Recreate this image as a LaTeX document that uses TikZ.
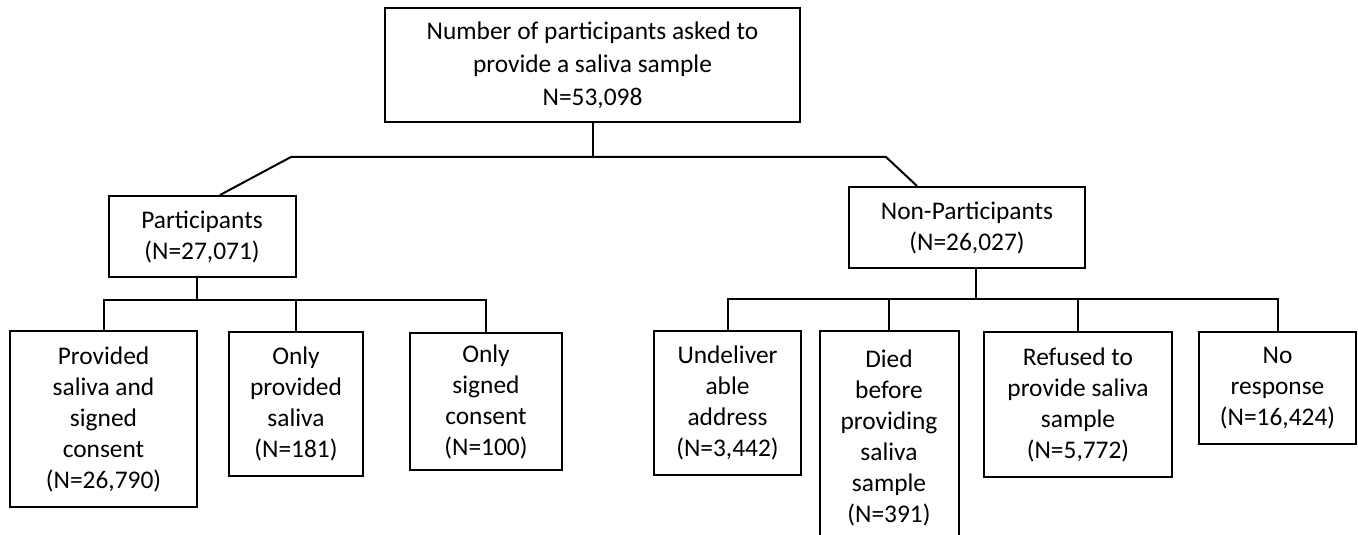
\documentclass[tikz,border=0pt]{standalone}
\usepackage{fontspec}
\setmainfont{Carlito}
\usetikzlibrary{calc,positioning}

\tikzset{
  flowbox/.style={draw,line width=2pt,align=center,inner sep=0pt,
    font=\fontsize{25.4}{31}\selectfont},
  link/.style={line width=2pt}
}

\begin{document}
\begin{tikzpicture}[x=1pt,y=1pt]
  \clip (0,0) rectangle (1358,535);
  % top box
  \node[flowbox,minimum width=415,minimum height=114,font=\fontsize{25.4}{33}\selectfont] (asked) at (592.5,470)
    {Number of participants asked to\\provide a saliva sample\\N=53,098};
  % second level
  \node[flowbox,minimum width=187,minimum height=81] (part) at (202,298.5) {Participants\\(N=27,071)};
  \node[flowbox,minimum width=236,minimum height=81] (nonpart) at (967,307.5) {Non-Participants\\(N=26,027)};
  % participants
  \node[flowbox,minimum width=187,minimum height=176] (both) at (103.5,116) {Provided\\saliva and\\signed\\consent\\(N=26,790)};
  \node[flowbox,minimum width=134,minimum height=144] (saliva) at (296,131) {Only\\provided\\saliva\\(N=181)};
  \node[flowbox,minimum width=152,minimum height=137] (consent) at (486,133.5) {Only\\signed\\consent\\(N=100)};
  % non-participants
  \node[flowbox,minimum width=147,minimum height=144] (undel) at (727.5,132) {Undeliver\\able\\address\\(N=3,442)};
  \node[flowbox,minimum width=139,minimum height=214] (died) at (889,97) {Died\\before\\providing\\saliva\\sample\\(N=391)};
  \node[flowbox,minimum width=188,minimum height=145] (refused) at (1078,130.5) {Refused to\\provide saliva\\sample\\(N=5,772)};
  \node[flowbox,minimum width=157,minimum height=112] (noresp) at (1277.5,147) {No\\response\\(N=16,424)};

  % connectors
  \coordinate (topjoin) at (592.5,378);
  \coordinate (leftbend) at (291,378);
  \coordinate (rightbend) at (886,378);
  \draw[link] (asked.south) -- (topjoin);
  \draw[link] ($(part.north)+(18,0)$) -- (leftbend) -- (rightbend) -- ($(nonpart.north)+(-50,0)$);

  \coordinate (pjoin) at (197,235);
  \draw[link] (part.south -| pjoin) -- (pjoin);
  \draw[link] (both.north) |- (pjoin) -| (consent.north);
  \draw[link] (saliva.north) -- (saliva.north |- pjoin);

  \coordinate (njoin) at (976,236);
  \draw[link] (nonpart.south -| njoin) -- (njoin);
  \draw[link] (undel.north) |- (njoin) -| (noresp.north);
  \draw[link] (died.north) -- (died.north |- njoin);
  \draw[link] (refused.north) -- (refused.north |- njoin);
\end{tikzpicture}
\end{document}
